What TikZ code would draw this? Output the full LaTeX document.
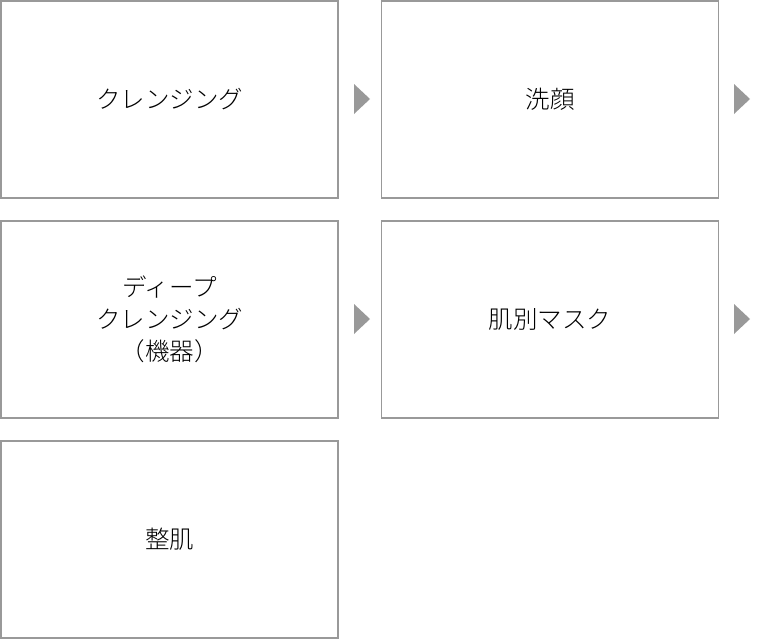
\documentclass[tikz,border=0pt]{standalone}
\usepackage{fontspec}
\setmainfont{Noto Sans CJK JP}[UprightFont={* Light}]
\begin{document}
\begin{tikzpicture}[x=1pt,y=-1pt,
  stepbox/.style={draw=black!40,line width=1.5pt,minimum width=337pt,minimum height=197pt,inner sep=0pt,align=center,font=\fontsize{24.5}{32}\selectfont},
  tri/.style={fill=black!40,draw=none}]
\useasboundingbox (0,0) rectangle (765,640);
\node[stepbox] (a) at (169.5,99.5) {クレンジング};
\node[stepbox] (b) at (550,99.5) {洗顔};
\node[stepbox] (c) at (169.5,319.5) {ディープ\\クレンジング\\（機器）};
\node[stepbox] (d) at (550,319.5) {肌別マスク};
\node[stepbox] (e) at (169.5,539.5) {整肌};
\coordinate (t1) at (354,99);
\coordinate (t2) at (734,99);
\coordinate (t3) at (354,319);
\coordinate (t4) at (734,319);
\foreach \t in {t1,t2,t3,t4}
  \fill[tri] (\t) ++(0,-15) -- ++(16,15) -- ++(-16,15) -- cycle;
\end{tikzpicture}
\end{document}
